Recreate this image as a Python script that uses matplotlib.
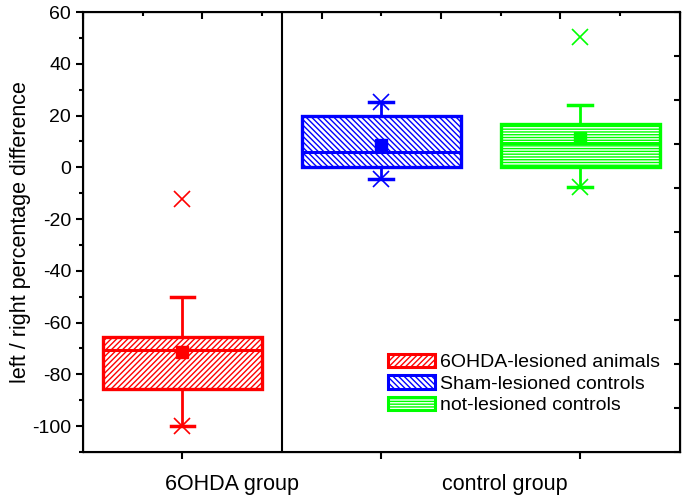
import numpy as np
import matplotlib
matplotlib.use('Agg')
import matplotlib.pyplot as plt
from matplotlib.patches import Patch
from matplotlib.ticker import MultipleLocator

plt.rcParams['font.family'] = ['Liberation Sans', 'DejaVu Sans']
plt.rcParams['hatch.linewidth'] = 1.0
plt.rcParams['axes.unicode_minus'] = False

# data
labels = ['6OHDA-lesioned animals', 'Sham-lesioned controls', 'not-lesioned controls']
positions = [1, 2, 3]
q1 = [-85.7, 0.0, 0.0]
q3 = [-65.6, 20.0, 16.7]
median = [-70.6, 6.0, 9.3]
mean = [-71.4, 8.6, 11.2]
whis_lo = [-100.0, -4.7, -7.5]
whis_hi = [-50.0, 25.3, 24.1]
fliers = [[-100.0, -12.3], [-4.7, 25.3], [-7.5, 50.2]]
colors = ['#FF0000', '#0000FF', '#00FF00']
hatches = ['//////', '\\\\\\\\\\\\', '------']
group_names = ['6OHDA group', 'control group']
group_pos = [1.25, 2.62]

fig = plt.figure(figsize=(6.86, 5.01), dpi=100)
ax = fig.add_axes([0.121, 0.098, 0.870, 0.878])

for i in range(3):
    stats = [dict(med=median[i], q1=q1[i], q3=q3[i], whislo=whis_lo[i],
                  whishi=whis_hi[i], mean=mean[i], fliers=fliers[i])]
    c = colors[i]
    ax.bxp(stats, positions=[positions[i]], widths=0.8, patch_artist=True,
           showmeans=True, capwidths=0.12, manage_ticks=False,
           boxprops=dict(facecolor='white', edgecolor=c, linewidth=2.4, hatch=hatches[i]),
           medianprops=dict(color=c, linewidth=2.2),
           whiskerprops=dict(color=c, linewidth=2),
           capprops=dict(color=c, linewidth=2.5),
           meanprops=dict(marker='s', markerfacecolor=c, markeredgecolor=c, markersize=9),
           flierprops=dict(marker='x', markeredgecolor=c, markersize=11, markeredgewidth=1.2))

ax.axvline(1.5, color='black', linewidth=1.5)

ax.set_xlim(0.5, 3.5)
ax.set_ylim(-110, 60)
ax.set_xticks(positions)
ax.set_xticklabels([])
for name, xp in zip(group_names, group_pos):
    ax.text(xp, -118.5, name, ha='center', va='top', fontsize=15.5)

ax.yaxis.set_major_locator(MultipleLocator(20))
ax.yaxis.set_minor_locator(MultipleLocator(10))
ax.tick_params(axis='y', which='major', direction='out', length=5, width=1.5, labelsize=14)
ax.tick_params(axis='y', which='minor', direction='out', length=3, width=1.5)
ax.tick_params(axis='x', which='major', direction='out', length=5, width=1.5)
ax.set_ylabel('left / right percentage difference', fontsize=15.5, labelpad=1)
for s in ax.spines.values():
    s.set_linewidth(1.5)

# top and right axes with their own ticks, no labels
top = ax.twiny()
top.set_xlim(0, 10)
top.xaxis.set_major_locator(MultipleLocator(2))
top.xaxis.set_minor_locator(MultipleLocator(1))
top.tick_params(axis='x', which='major', direction='in', length=5, width=1.5, labeltop=False)
top.tick_params(axis='x', which='minor', direction='in', length=3, width=1.5)
right = ax.twinx()
right.set_ylim(0, 10)
right.yaxis.set_major_locator(MultipleLocator(1))
right.tick_params(axis='y', which='major', direction='in', length=4, width=1.5, labelright=False)

handles = [Patch(facecolor='white', edgecolor=colors[i], hatch=hatches[i], linewidth=2.2)
           for i in range(3)]
ax.legend(handles, labels, loc='upper left', bbox_to_anchor=(0.511, 0.223),
          frameon=False, fontsize=14, borderpad=0, borderaxespad=0,
          handlelength=2.4, handleheight=0.7, labelspacing=0.2, handletextpad=0.3)

fig.savefig('out.png', dpi=100)
